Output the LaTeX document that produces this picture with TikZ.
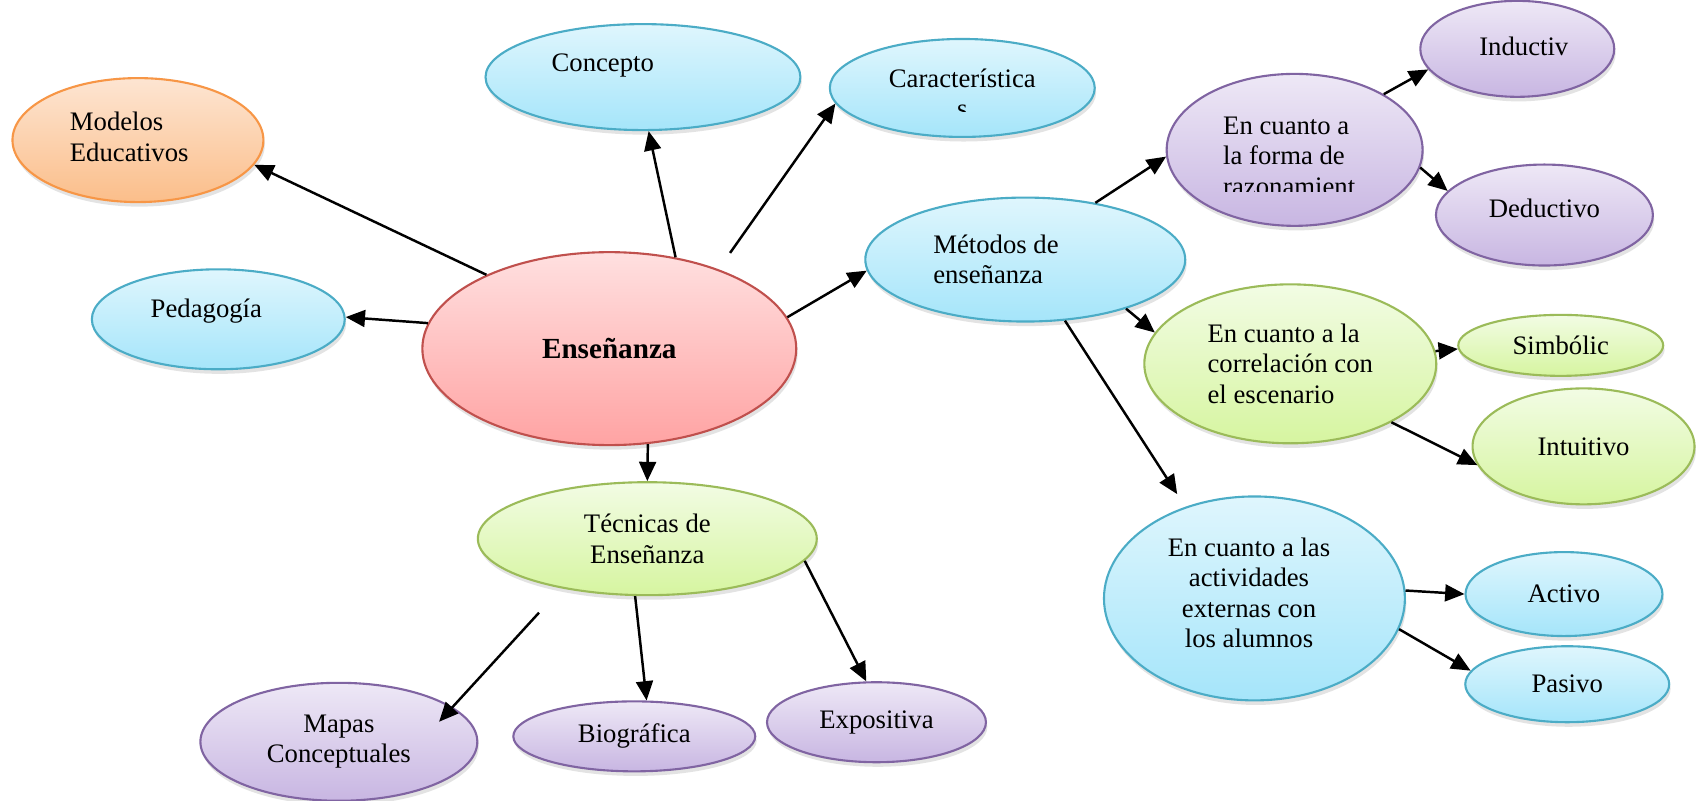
\documentclass[tikz,border=0pt]{standalone}
\usepackage{fontspec}
\setmainfont{Liberation Serif}
\usetikzlibrary{shapes.geometric}
\usetikzlibrary{arrows.meta}
\usetikzlibrary{shadows}

\definecolor{bluetop}{HTML}{DFF6FD}
\definecolor{bluebot}{HTML}{A5E5FA}
\definecolor{blueline}{HTML}{4BACC6}
\definecolor{orngtop}{HTML}{FDE5D2}
\definecolor{orngbot}{HTML}{FBBE8A}
\definecolor{orngline}{HTML}{F79646}
\definecolor{rosatop}{HTML}{FFE0E0}
\definecolor{rosabot}{HTML}{FFA3A3}
\definecolor{rosaline}{HTML}{C0504D}
\definecolor{verdetop}{HTML}{F2FCE4}
\definecolor{verdebot}{HTML}{D6F5A0}
\definecolor{verdeline}{HTML}{9BBB59}
\definecolor{lilatop}{HTML}{EEE8F6}
\definecolor{lilabot}{HTML}{C8B6E2}
\definecolor{lilaline}{HTML}{8064A2}

\begin{document}
\begin{tikzpicture}[x=0.010861cm, y=-0.010861cm,
	txt/.style={font=\fontsize{7.6}{8.7}\selectfont},
	bub/.style={ellipse, inner sep=0pt, line width=0.6pt, txt,
		drop shadow={opacity=0.22, shadow xshift=0.4pt, shadow yshift=-1.3pt}},
	sz/.style 2 args={minimum width=#1cm, minimum height=#2cm},
	blu/.style={bub, draw=blueline, top color=bluetop, bottom color=bluebot},
	orng/.style={bub, draw=orngline, top color=orngtop, bottom color=orngbot},
	rosa/.style={bub, draw=rosaline, top color=rosatop, bottom color=rosabot},
	verde/.style={bub, draw=verdeline, top color=verdetop, bottom color=verdebot},
	lila/.style={bub, draw=lilaline, top color=lilatop, bottom color=lilabot},
	arr/.style={-{Triangle[length=5.5pt,width=4.8pt]}, line width=0.7pt}]

	% page, white background
	\fill[white] (0,0) rectangle (1568,737);
	\useasboundingbox (0,0) rectangle (1568,737);

	% central topic and its neighbours on the left and on top
	\node[rosa, sz={3.74}{1.93}, font=\fontsize{8.3}{9.5}\selectfont\bfseries] (ens) at (561,321) {Enseñanza};
	\node[orng, sz={2.51}{1.24}, label={[txt, align=left, shift={(-8,-3)}]center:Modelos\\Educativos}] (mod) at (127,129) {};
	\node[blu, sz={2.53}{1.00}, label={[txt, shift={(-11,-8)}]center:Pedagogía}] (ped) at (201,294) {};
	\node[blu, sz={3.15}{1.06}, label={[txt, shift={(-37,-11)}]center:Concepto}] (con) at (592,71) {};
	\node[blu, sz={2.65}{0.98}] (car) at (886,81) {};
	% text of this one is cut off at the bottom
	\begin{scope}
		\clip (760,30) rectangle (1010,102.5);
		\node[txt, align=center] (cartxt) at (886,86) {Característica\\s};
	\end{scope}

	% methods branch
	\node[blu, sz={3.20}{1.24}, label={[txt, align=left, shift={(-27,0)}]center:Métodos de\\enseñanza}] (met) at (944,239) {};
	\node[lila, sz={2.56}{1.52}] (raz) at (1192,138) {};
	\begin{scope}
		\clip (1070,60) rectangle (1310,176);
		\node[txt, align=left] (raztxt) at (1187,144) {En cuanto a\\la forma de\\razonamient};
	\end{scope}
	\node[lila, sz={1.94}{0.96}, label={[txt, shift={(6,-2)}]center:Inductiv}] (ind) at (1397,45) {};
	\node[lila, sz={2.17}{1.01}, label={[txt, shift={(0,-6)}]center:Deductivo}] (ded) at (1422,198) {};
	\node[verde, sz={2.92}{1.59}, align=left] (cor) at (1188,335) {En cuanto a la\\correlación con\\el escenario};
	\node[verde, sz={2.05}{0.61}] (sim) at (1437,318) {Simbólic};
	\node[verde, sz={2.22}{1.16}] (int) at (1458,411) {Intuitivo};
	\node[blu, sz={3.01}{2.04}, label={[txt, align=center, shift={(-5,-5)}]center:En cuanto a las\\actividades\\externas con\\los alumnos}] (act) at (1155,551) {};
	\node[blu, sz={1.97}{0.84}] (acv) at (1440,547) {Activo};
	\node[blu, sz={2.04}{0.76}] (pas) at (1443,630) {Pasivo};

	% techniques branch
	\node[verde, sz={3.39}{1.13}, align=center] (tec) at (596,496) {Técnicas de\\Enseñanza};
	\node[lila, sz={2.77}{1.18}, align=center] (map) at (312,683) {Mapas\\Conceptuales};
	\node[lila, sz={2.42}{0.70}] (bio) at (584,678) {Biográfica};
	\node[lila, sz={2.19}{0.80}] (exp) at (807,665) {Expositiva};

	% arrows out of the centre
	\draw[arr] (ens.149) -- (mod.-12);
	\draw[arr] (ens.172) -- (ped.1.5);
	\draw[arr] (ens.54.5) -- (con.-84);
	\draw[arr, shorten <=2mm] (ens.36) -- (car.187.5);
	\draw[arr] (ens.10) -- (met.184);
	\draw[arr] (ens.-68) -- (tec.90);
	% arrows of the methods branch
	\draw[arr] (met.39) -- (raz.183);
	\draw[arr] (raz.32) -- (ind.193);
	\draw[arr] (raz.-8) -- (ded.166);
	\draw[arr] (met.-26) -- (cor.167);
	\draw[arr, shorten >=1.5mm] (met.-57) -- (act.127);
	\draw[arr] (cor.5) -- (sim.182);
	\draw[arr] (cor.-30) -- (int.190);
	\draw[arr] (act.3.5) -- (acv.180);
	\draw[arr] (act.-12) -- (pas.172);
	% arrows of the techniques branch
	\draw[arr, shorten <=3.3mm, shorten >=-2mm] (tec.210) -- (map.17);
	\draw[arr] (tec.258) -- (bio.71);
	\draw[arr] (tec.-8) -- (exp.104);

\end{tikzpicture}
\end{document}
